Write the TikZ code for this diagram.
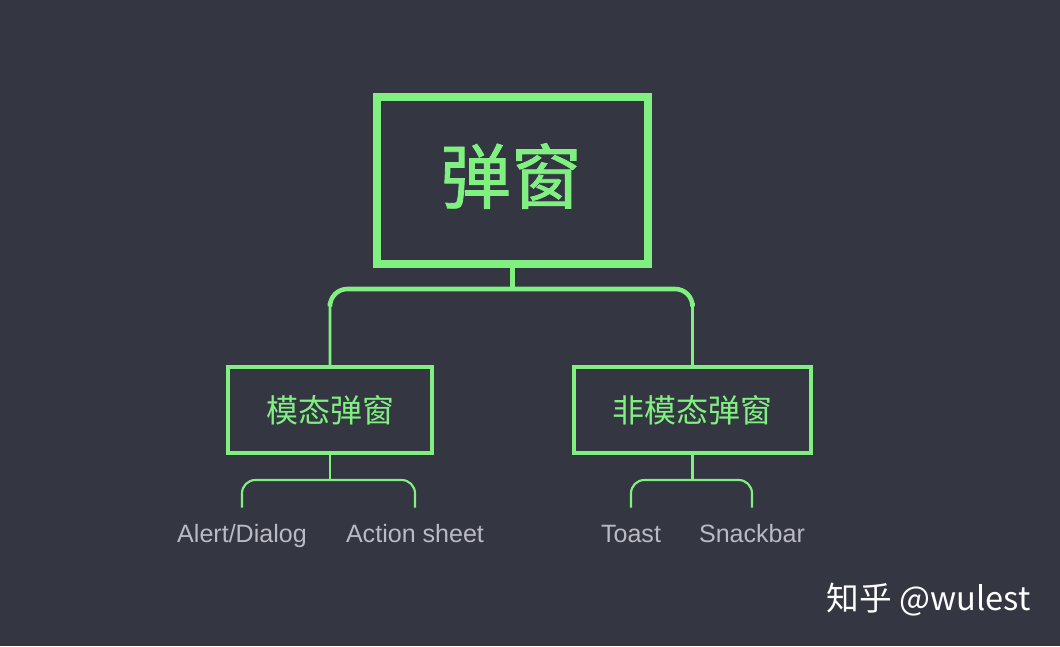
\documentclass[tikz,border=0pt]{standalone}
\usepackage{fontspec}
\setmainfont{Liberation Sans}
\newfontfamily\cjk{Noto Sans CJK SC}
\newfontfamily\cjkm[FakeBold=1.2]{Noto Sans CJK SC}
\definecolor{bg}{RGB}{52,54,66}
\definecolor{grn}{RGB}{128,240,128}
\definecolor{lbl}{RGB}{186,186,194}
\begin{document}
\begin{tikzpicture}[x=0.75pt,y=-0.75pt,
  mainbox/.style={draw=grn,line width=6pt,minimum width=203.25pt,minimum height=125.25pt,inner sep=0pt,text=grn},
  titletext/.style={text=grn,inner sep=0pt,font=\cjkm\fontsize{53}{60}\selectfont},
  subbox/.style={draw=grn,line width=3pt,minimum height=64.5pt,inner sep=0pt,text=grn,font=\cjk\fontsize{24}{28}\selectfont},
  leaf/.style={anchor=base,text=lbl,font=\fontsize{18.8}{22}\selectfont,text height=13pt,text depth=4pt,inner ysep=12.5pt,inner xsep=0pt},
  thinline/.style={draw=grn,line width=1.6pt},
  midline/.style={draw=grn,line width=2pt},
]
\fill[bg] (0,0) rectangle (1060,646);
\useasboundingbox (0,0) rectangle (1060,646);

\node[mainbox] (main) at (512.5,180.5) {};
\node[titletext] (title) at (511,176) {弹窗};
\node[subbox,minimum width=153pt] (L) at (330,410) {模态弹窗};
\node[subbox,minimum width=177.75pt] (R) at (692.5,410) {非模态弹窗};

\coordinate (bar) at (512,289);
\draw[grn,line width=4pt] (main.south) -- (main.south |- bar);
\draw[midline,rounded corners=13pt] (L.north) -- (L.north |- bar) -- (R.north |- bar) -- (R.north);
\draw[grn,line width=3.4pt,rounded corners=13pt] (330,303) -- (L.north |- bar) -- (R.north |- bar) -- (692.5,303);

\node[leaf] (a1) at (242,542) {Alert/Dialog};
\node[leaf] (a2) at (415,542) {Action sheet};
\node[leaf] (b1) at (631,542) {Toast};
\node[leaf] (b2) at (752,542) {Snackbar};

\coordinate (lb) at (330,480);
\coordinate (rb) at (692.5,480);
\draw[thinline] (L.south) -- (lb);
\draw[thinline,rounded corners=10pt] (a1.north) -- (a1.north |- lb) -- (a2.north |- lb) -- (a2.north);
\draw[thinline] (R.south) -- (rb);
\draw[thinline,rounded corners=10pt] (b1.north) -- (b1.north |- lb) -- (b2.north |- lb) -- (b2.north);

\node[text=white,font=\cjk\fontsize{24.5}{30}\selectfont,anchor=east,inner sep=0pt] (wm) at (1031,600) {知乎 @wulest};
\end{tikzpicture}
\end{document}
